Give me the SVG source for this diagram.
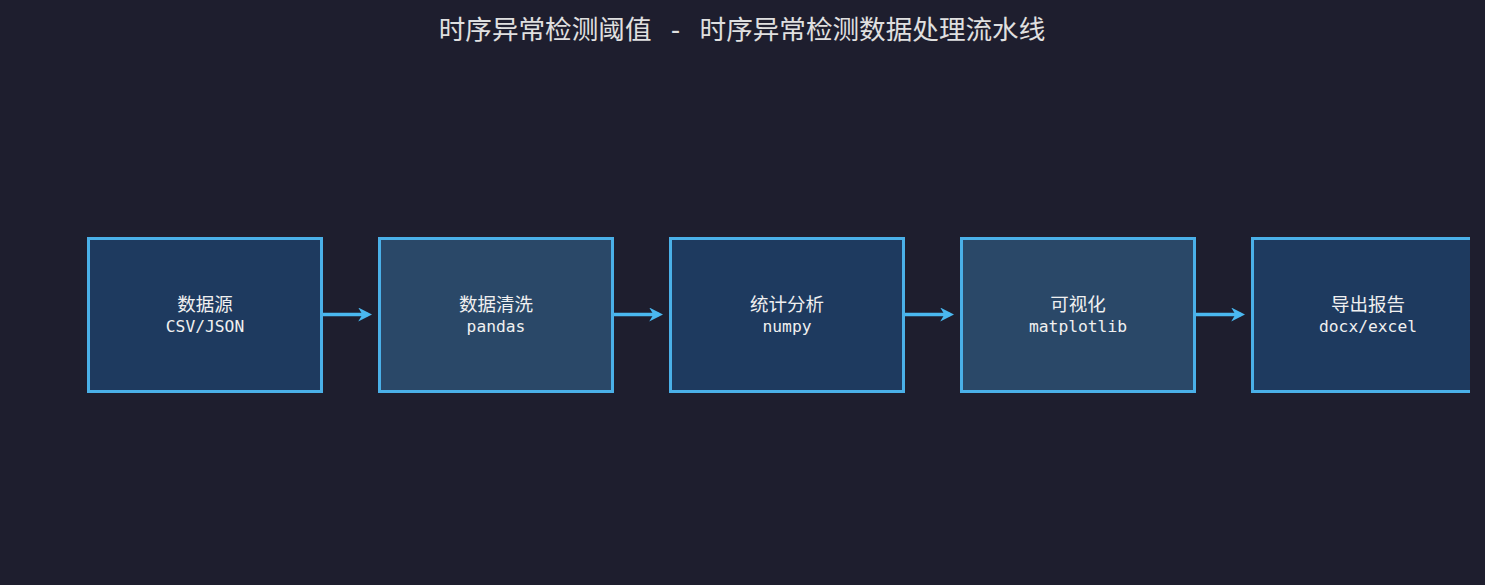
<svg xmlns="http://www.w3.org/2000/svg" width="1485" height="585" viewBox="0 0 1485 585">
<defs>
<style>
.n rect{stroke:#4ab0e8;stroke-width:3}
.a{fill:#1e3a5f}.b{fill:#2a4868}
.t1{font-family:"DejaVu Sans Mono","Noto Sans CJK SC",monospace;font-size:18.5px;fill:#f0f0f0;text-anchor:middle}
.t2{font-family:"DejaVu Sans Mono","Noto Sans CJK SC",monospace;font-size:16.3px;fill:#f0f0f0;text-anchor:middle}
.c line{stroke:#4ab8f0;stroke-width:3.5;marker-end:url(#ah)}
</style>
<marker id="ah" viewBox="0 0 10 10" refX="7" refY="5" markerWidth="4" markerHeight="4" orient="auto" markerUnits="strokeWidth">
<path d="M0,0 L10,5 L0,10 L3,5 Z" fill="#4ab8f0"/>
</marker>
<clipPath id="cp"><rect x="0" y="0" width="1470" height="585"/></clipPath>
</defs>
<rect width="1485" height="585" fill="#1e1e2e"/>
<text x="742" y="38.5" font-family="'DejaVu Sans Mono','Noto Sans CJK SC',monospace" font-size="26.6" fill="#e0e0e0" text-anchor="middle">时序异常检测阈值 - 时序异常检测数据处理流水线</text>
<g clip-path="url(#cp)">
<g id="n1" class="n"><rect class="a" x="88.5" y="238.5" width="233" height="153"/><text class="t1" x="205" y="310.5">数据源</text><text class="t2" x="205" y="331.5">CSV/JSON</text></g>
<g id="n2" class="n"><rect class="b" x="379.5" y="238.5" width="233" height="153"/><text class="t1" x="496" y="310.5">数据清洗</text><text class="t2" x="496" y="331.5">pandas</text></g>
<g id="n3" class="n"><rect class="a" x="670.5" y="238.5" width="233" height="153"/><text class="t1" x="787" y="310.5">统计分析</text><text class="t2" x="787" y="331.5">numpy</text></g>
<g id="n4" class="n"><rect class="b" x="961.5" y="238.5" width="233" height="153"/><text class="t1" x="1078" y="310.5">可视化</text><text class="t2" x="1078" y="331.5">matplotlib</text></g>
<g id="n5" class="n"><rect class="a" x="1252.5" y="238.5" width="233" height="153"/><text class="t1" x="1368" y="310.5">导出报告</text><text class="t2" x="1368" y="331.5">docx/excel</text></g>
<g class="c">
<line x1="323" y1="314.5" x2="368" y2="314.5"/>
<line x1="614" y1="314.5" x2="659" y2="314.5"/>
<line x1="905" y1="314.5" x2="950" y2="314.5"/>
<line x1="1196" y1="314.5" x2="1241" y2="314.5"/>
</g>
</g>
</svg>
